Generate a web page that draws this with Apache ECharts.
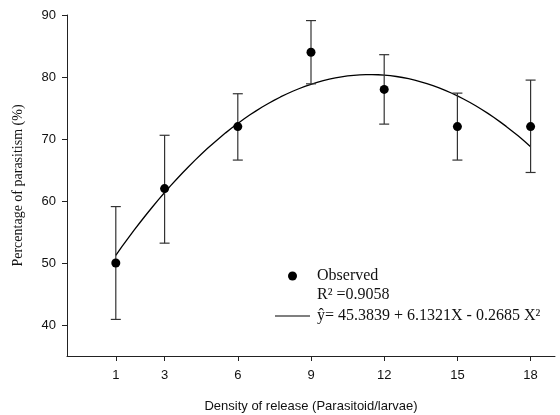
<!DOCTYPE html>
<html>
<head>
<meta charset="utf-8">
<script src="https://cdn.jsdelivr.net/npm/echarts@6/dist/echarts.min.js"></script>
<style>
  html, body { margin: 0; padding: 0; background: #fff; }
  #chart { width: 560px; height: 415px; }
</style>
</head>
<body>
<div id="chart"></div>
<script>
// Release densities and observed parasitism (mean with error bar limits)
const densities = [1, 3, 6, 9, 12, 15, 18];
const observedMean = [50, 62, 72, 84, 78, 72, 72];
const errorUpper = [59.1, 70.6, 77.3, 89.1, 83.6, 77.4, 79.5];
const errorLower = [40.9, 53.2, 66.6, 78.9, 72.4, 66.6, 64.6];

// Quadratic fit coefficients: y = b0 + b1*X + b2*X^2
const fitCoefficients = [45.3839, 6.1321, -0.2685];
const rSquared = '0.9058';

const xTicks = [1, 3, 6, 9, 12, 15, 18];
const yTicks = [40, 50, 60, 70, 80, 90];

const serif = '"Liberation Serif", "Times New Roman", serif';
const sans = '"Liberation Sans", Arial, sans-serif';
const fitName = 'ŷ= 45.3839 + 6.1321X - 0.2685 X²';

// Fitted curve sampled over the range of densities
const fitLine = [];
for (let x = densities[0]; x <= densities[densities.length - 1] + 1e-9; x += 0.25) {
  const [b0, b1, b2] = fitCoefficients;
  fitLine.push([x, b0 + b1 * x + b2 * x * x]);
}

const pointData = densities.map((d, i) => [d, observedMean[i]]);
const errorData = densities.map((d, i) => [d, errorLower[i], errorUpper[i]]);

const chart = echarts.init(document.getElementById('chart'), null, { renderer: 'canvas' });

chart.setOption({
  animation: false,
  backgroundColor: '#fff',
  grid: { left: 67, right: 5, top: 15, bottom: 59, containLabel: false, outerBoundsMode: 'none' },
  xAxis: {
    type: 'value',
    min: -1,
    max: 19,
    name: 'Density of release (Parasitoid/larvae)',
    nameLocation: 'middle',
    nameGap: 44,
    nameTextStyle: { fontFamily: sans, fontSize: 13, color: '#111' },
    axisLine: { onZero: false, lineStyle: { color: '#222', width: 1 } },
    axisTick: { show: true, inside: false, length: 5, customValues: xTicks, lineStyle: { color: '#222' } },
    axisLabel: { customValues: xTicks, fontFamily: sans, fontSize: 13, color: '#111', margin: 13 },
    splitLine: { show: false }
  },
  yAxis: {
    type: 'value',
    min: 35,
    max: 90,
    name: 'Percentage of parasitism (%)',
    nameLocation: 'middle',
    nameGap: 42,
    nameRotate: 90,
    nameTextStyle: { fontFamily: serif, fontSize: 14, color: '#111' },
    axisLine: { show: true, onZero: false, lineStyle: { color: '#222', width: 1 } },
    axisTick: { show: true, inside: false, length: 5, customValues: yTicks, lineStyle: { color: '#222' } },
    axisLabel: { customValues: yTicks, fontFamily: sans, fontSize: 13, color: '#111', margin: 11 },
    splitLine: { show: false }
  },
  legend: {
    orient: 'vertical',
    left: 270,
    top: 262,
    itemWidth: 35,
    itemHeight: 9,
    itemGap: 22,
    selectedMode: false,
    textStyle: { fontFamily: serif, fontSize: 16, color: '#111', lineHeight: 18, padding: [0, 0, 0, 2] },
    data: [
      { name: 'Observed', icon: 'circle', itemStyle: { color: '#000', opacity: 1 } },
      { name: fitName, icon: 'path://M0,0 L35,0 L35,1.2 L0,1.2 Z', itemStyle: { color: '#000' } }
    ]
  },
  graphic: [{
    type: 'text',
    left: 317,
    top: 287,
    style: { text: 'R² =' + rSquared, font: '16px ' + serif, fill: '#111' }
  }],
  series: [
    {
      name: fitName,
      type: 'line',
      data: fitLine,
      symbol: 'none',
      showSymbol: false,
      smooth: false,
      lineStyle: { color: '#000', width: 1.3 },
      itemStyle: { color: '#000' },
      z: 2
    },
    {
      name: 'errorbars',
      type: 'custom',
      data: errorData,
      z: 3,
      renderItem: function (params, api) {
        const x = api.value(0);
        const lo = api.coord([x, api.value(1)]);
        const hi = api.coord([x, api.value(2)]);
        const half = 5;
        const style = { stroke: '#333', lineWidth: 1.2 };
        return {
          type: 'group',
          children: [
            { type: 'line', shape: { x1: lo[0], y1: lo[1], x2: hi[0], y2: hi[1] }, style },
            { type: 'line', shape: { x1: hi[0] - half, y1: hi[1], x2: hi[0] + half, y2: hi[1] }, style },
            { type: 'line', shape: { x1: lo[0] - half, y1: lo[1], x2: lo[0] + half, y2: lo[1] }, style }
          ]
        };
      }
    },
    {
      name: 'Observed',
      type: 'scatter',
      data: pointData,
      symbol: 'circle',
      symbolSize: 9,
      itemStyle: { color: '#000', opacity: 1 },
      z: 4
    }
  ]
});
</script>
</body>
</html>
